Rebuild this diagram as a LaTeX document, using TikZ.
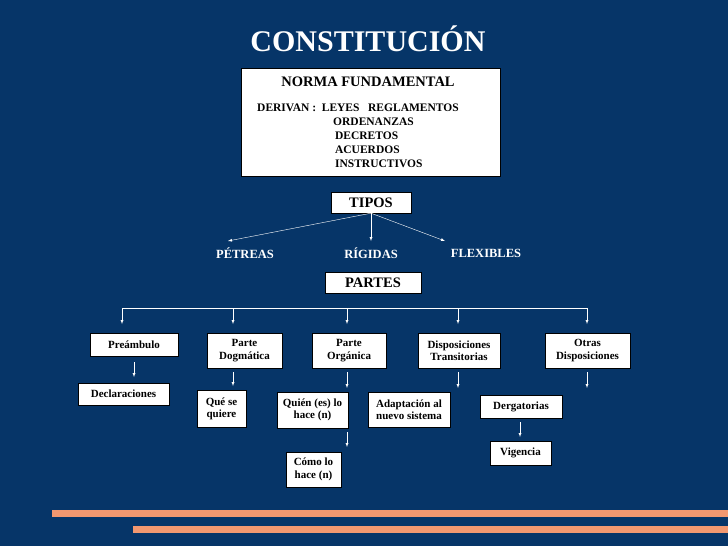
\documentclass[tikz,border=0pt]{standalone}
\usepackage{fontspec}
\setmainfont{Liberation Serif}
\definecolor{bg}{RGB}{6,53,104}
\definecolor{bar}{RGB}{242,152,112}
\begin{document}
\begin{tikzpicture}[x=1pt,y=-1pt,
 bx/.style={draw=black,fill=white,font=\bfseries\fontsize{11}{12.5}\selectfont,align=center,inner sep=1pt,minimum height=22pt},
 wl/.style={text=white,font=\bfseries\fontsize{12.5}{14}\selectfont},
 ar/.style={white,-latex}]
\fill[bg] (0,0) rectangle (728,546);
\useasboundingbox (0,0) rectangle (728,546);
\fill[bar] (52,510) rectangle (728,517);
\fill[bar] (133,526) rectangle (728,533);
\node[text=white,font=\bfseries\fontsize{30}{34}\selectfont] (title) at (368,39) {CONSTITUCIÓN};
\node[draw=black,fill=white,minimum width=259,minimum height=108,inner sep=0] (norma) at (370.5,122) {};
\node[font=\bfseries\fontsize{14.5}{16}\selectfont] (nf) at (368,82) {NORMA FUNDAMENTAL};
\node[font=\bfseries\fontsize{11.5}{13}\selectfont,anchor=west,inner sep=0] (der) at (257,108) {DERIVAN :\ \ LEYES\ \ \ REGLAMENTOS};
\node[font=\bfseries\fontsize{11.5}{13}\selectfont,anchor=north west,align=left,inner sep=0] (rest) at (333,117.5) {ORDENANZAS\\[1.2pt]\,DECRETOS\\[1.2pt]\,ACUERDOS\\[1.2pt]\,INSTRUCTIVOS};
\node[bx,font=\bfseries\fontsize{14.5}{16}\selectfont,minimum width=80,minimum height=21] (tipos) at (371,202.5) {TIPOS};
\node[wl] (pet) at (245,253) {PÉTREAS};
\node[wl] (rig) at (371,253) {RÍGIDAS};
\node[wl] (flex) at (486,253) {FLEXIBLES};
\draw[ar] (tipos.south) -- (228,241);
\draw[ar] (tipos.south) -- (371,241);
\draw[ar] (tipos.south) -- (445,241);
\node[bx,font=\bfseries\fontsize{14.5}{16}\selectfont,minimum width=96,minimum height=21] (partes) at (373,282.5) {PARTES};
\node[bx,minimum width=88,minimum height=23] (pre) at (134,345) {Preámbulo};
\node[bx,minimum width=75,minimum height=35] (dog) at (244.5,350.5) {Parte\\Dogmática};
\node[bx,minimum width=74,minimum height=35] (org) at (349,350.5) {Parte\\Orgánica};
\node[bx,minimum width=82,minimum height=35] (tra) at (459,350.5) {Disposiciones\\Transitorias};
\node[bx,minimum width=85,minimum height=35] (otr) at (587.5,350.5) {Otras\\Disposiciones};
\coordinate (hl) at (122,308); \coordinate (hr) at (587,308);
\draw[white] (hl) -- (hr);
\draw[ar] (122,308) -- (122,324);
\draw[ar] (233,308) -- (233,324);
\draw[ar] (347,308) -- (347,324);
\draw[ar] (458,308) -- (458,324);
\draw[ar] (587,308) -- (587,324);
\node[bx,minimum width=91,minimum height=22] (dec) at (123.5,394) {Declaraciones};
\node[bx,minimum width=49,minimum height=37] (que) at (221.5,409) {Qué se\\quiere};
\node[bx,minimum width=71,minimum height=36] (qui) at (312.5,410) {Quién (es) lo\\hace (n)};
\node[bx,minimum width=82,minimum height=35] (ada) at (409,409.5) {Adaptación al\\nuevo sistema};
\node[bx,minimum width=82,minimum height=23] (der2) at (521,406.5) {Dergatorias};
\node[bx,minimum width=55,minimum height=35] (como) at (313.5,469.5) {Cómo lo\\hace (n)};
\node[bx,minimum width=61,minimum height=24] (vig) at (520.5,453) {Vigencia};
\draw[ar] (134,362) -- (134,377);
\draw[ar] (233,372) -- (233,386);
\draw[ar] (347,372) -- (347,388);
\draw[ar] (458,372) -- (458,388);
\draw[ar] (587,372) -- (587,388);
\draw[ar] (347,432) -- (347,447);
\draw[ar] (520,422) -- (520,437);
\end{tikzpicture}
\end{document}
